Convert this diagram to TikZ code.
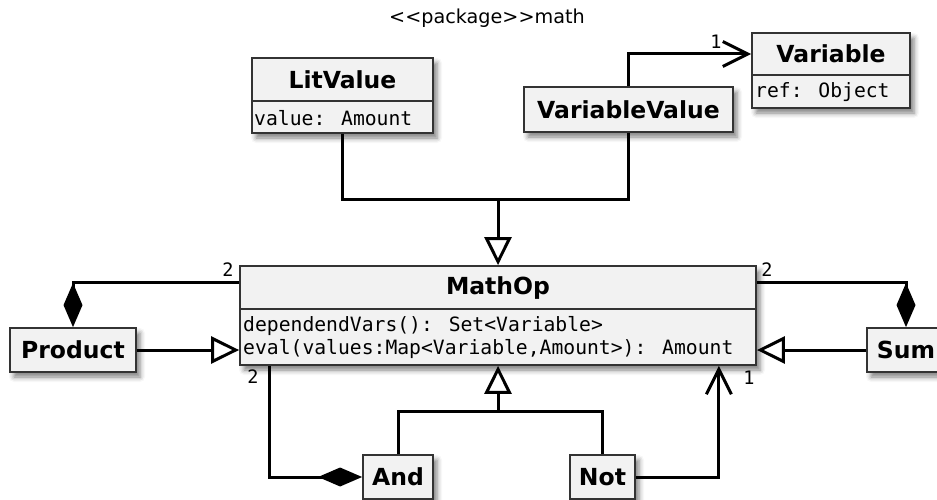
\documentclass[tikz,border=0pt]{standalone}
\usepackage{fontspec}
\setmainfont{DejaVu Sans}
\newfontfamily\monofont{DejaVu Sans Mono}
\usetikzlibrary{arrows.meta,shadows.blur}
\definecolor{boxfill}{HTML}{F2F2F2}
\definecolor{boxline}{HTML}{333333}

\tikzset{
  cls/.style={draw=boxline, line width=1.8pt, fill=boxfill, inner sep=0pt,
    blur shadow={shadow xshift=4pt, shadow yshift=-5pt,
                 shadow blur radius=5pt, shadow opacity=50}},
  cname/.style={font=\fontsize{23.5}{28}\selectfont\bfseries, inner sep=0pt},
  attr/.style={font=\monofont\fontsize{19.7}{23}\selectfont, inner sep=0pt, anchor=west},
  mult/.style={font=\monofont\fontsize{18.5}{20}\selectfont, inner sep=0pt},
  pkg/.style={font=\fontsize{19.2}{22}\selectfont, inner sep=0pt},
  divline/.style={draw=boxline, line width=1.8pt},
  conn/.style={line width=3pt, black},
  gen/.style={conn, -{Triangle[open, length=28pt, width=27pt]}},
  comp/.style={conn, -{Diamond[length=44pt, width=19pt]}},
  assoc/.style={conn, -{Straight Barb[length=25pt, width=25pt]}},
}

\begin{document}
\begin{tikzpicture}[x=1pt, y=-1pt]
\useasboundingbox (0,0) rectangle (937,500);
\clip (0,0) rectangle (937,500);

% package caption
\node[pkg] (pkg) at (487,18) {{<}{<}package{>}{>}math};

% LitValue
\node[cls, minimum width=181pt, minimum height=75pt] (lit) at (342.5,95.5) {};
\draw[divline] ([yshift=-44pt]lit.north west) -- ([yshift=-44pt]lit.north east);
\node[cname] (lit-t) at (342.5,80) {LitValue};
\node[attr] (lit-a) at (254,118) {value: Amount};

% VariableValue
\node[cls, cname, minimum width=209pt, minimum height=45pt] (varval) at (628.5,109.5) {VariableValue};

% Variable
\node[cls, minimum width=158pt, minimum height=75pt] (var) at (831,70.5) {};
\draw[divline] ([yshift=-43pt]var.north west) -- ([yshift=-43pt]var.north east);
\node[cname] (var-t) at (831,54) {Variable};
\node[attr] (var-a) at (755,92) {ref: Object};

% MathOp
\node[cls, minimum width=516pt, minimum height=99pt] (mathop) at (498,315.5) {};
\draw[divline] ([yshift=-44pt]mathop.north west) -- ([yshift=-44pt]mathop.north east);
\node[cname] (mathop-t) at (498,288) {MathOp};
\node[attr] (mathop-a1) at (243,326) {dependendVars(): Set<Variable>};
\node[attr] (mathop-a2) at (243,349) {eval(values:Map<Variable,Amount>): Amount};

% operators
\node[cls, cname, minimum width=126pt, minimum height=44pt] (prod) at (73,350) {Product};
\node[cls, cname, minimum width=78pt, minimum height=44pt] (sum) at (906,350) {Sum};
\node[cls, cname, minimum width=70pt, minimum height=44pt] (and) at (398,477) {And};
\node[cls, cname, minimum width=65pt, minimum height=44pt] (not) at (602.5,477) {Not};

% generalisation of LitValue and VariableValue
\coordinate (jtop) at (mathop.north |- 0,199);
\draw[conn] (lit.south) |- (jtop);
\draw[conn] (varval.south) |- (jtop);
\draw[gen] (jtop) -- (mathop.north);

% VariableValue refers to a Variable
\draw[assoc] (varval.north) |- (var.west |- var-t);
\node[mult] (m-var) at (716,41.5) {1};

% Product and Sum
\draw[comp] ([yshift=-17pt]mathop.north west) -| (prod.north);
\node[mult] (m-prod) at (228,270) {2};
\draw[gen] (prod.east) -- (prod.east -| mathop.west);
\draw[comp] ([yshift=-17pt]mathop.north east) -| (sum.north);
\node[mult] (m-sum) at (767,270) {2};
\draw[gen] (sum.west) -- (sum.west -| mathop.east);

% And and Not
\coordinate (jbot) at (mathop.south |- 0,411);
\draw[conn] (and.north) |- (jbot);
\draw[conn] (not.north) |- (jbot);
\draw[gen] (jbot) -- (mathop.south);
\draw[comp] ([xshift=30pt]mathop.south west) |- (and.west);
\node[mult] (m-and) at (253,377) {2};
\draw[assoc] (not.east) -| ([xshift=-38pt]mathop.south east);
\node[mult] (m-not) at (749,378) {1};
\end{tikzpicture}
\end{document}
